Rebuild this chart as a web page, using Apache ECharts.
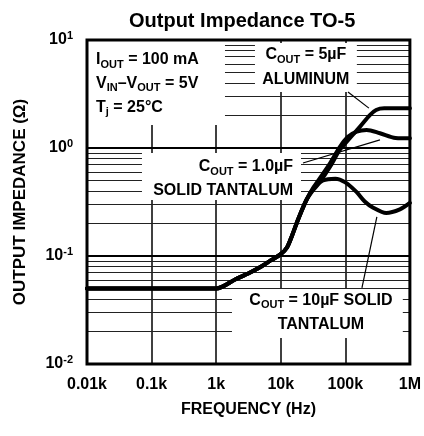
<!DOCTYPE html>
<html><head><meta charset="utf-8">
<script src="https://cdn.jsdelivr.net/npm/echarts@6/dist/echarts.min.js"></script>
<style>html,body{margin:0;padding:0;background:#fff}#c{width:424px;height:436px}</style>
</head><body><div id="c"></div>
<script>
// ---------------- DATA ----------------
const title = 'Output Impedance TO-5';
const xAxisName = 'FREQUENCY (Hz)';
const yAxisName = 'OUTPUT IMPEDANCE (\u03A9)';
const xTickLabels = ['0.01k', '0.1k', '1k', '10k', '100k', '1M'];
const yTickBase = '10';
const yTickExps = ['-2', '-1', '0', '1'];

// shared low-frequency part (Hz, ohm)
const freqTrunk = [10, 100, 1000, 2000, 3300, 5000, 7000, 10000, 12500, 15000, 18700, 25000];
const zTrunk    = [0.05, 0.05, 0.05, 0.061, 0.07, 0.08, 0.091, 0.104, 0.12, 0.155, 0.22, 0.33];
// C_OUT = 10uF solid tantalum
const freq10uF = [32000, 45000, 70000, 100000, 150000, 200000, 270000, 430000, 700000, 1000000];
const z10uF    = [0.42, 0.5, 0.52, 0.48, 0.39, 0.32, 0.28, 0.25, 0.27, 0.31];
// C_OUT = 1.0uF solid tantalum
const freq1uF = [32000, 40000, 58000, 82000, 110000, 150000, 214000, 344000, 600000, 1000000];
const z1uF    = [0.43, 0.52, 0.72, 1.02, 1.27, 1.42, 1.47, 1.37, 1.24, 1.23];
// C_OUT = 5uF aluminum
const freq5uF = [32000, 40000, 58000, 82000, 120000, 168000, 240000, 300000, 400000, 1000000];
const z5uF    = [0.41, 0.48, 0.67, 0.96, 1.25, 1.57, 2.02, 2.25, 2.33, 2.33];
// ---------------------------------------

const FONT = '"Liberation Sans", Arial, Helvetica, sans-serif';
function pairs(fx, zy) { return fx.map((f, i) => [f, zy[i]]); }
const trunk = pairs(freqTrunk, zTrunk);
function curve(fx, zy) { return trunk.concat(pairs(fx, zy)); }

// minor horizontal grid lines (2..9 within each decade)
const minorY = [];
[0.01, 0.1, 1].forEach(d => { for (let k = 2; k <= 9; k++) minorY.push(+(d * k).toPrecision(3)); });

const chart = echarts.init(document.getElementById('c'), null, { renderer: 'canvas' });

const curveStyle = { color: '#000', width: 4, cap: 'round', join: 'round' };
function lineSeries(name, data) {
  return { name, type: 'line', data, showSymbol: false, symbol: 'none', smooth: 0.3,
           lineStyle: curveStyle, z: 3, silent: true };
}

const option = {
  animation: false,
  backgroundColor: '#fff',
  title: { text: title, left: 124, top: 6,
           textStyle: { fontSize: 20, fontWeight: 'bold', fontFamily: FONT, color: '#000' } },
  grid: { left: 87, right: 14, top: 40, bottom: 72, show: false },
  xAxis: {
    type: 'log', logBase: 10, min: 10, max: 1000000,
    name: xAxisName, nameLocation: 'middle', nameGap: 38,
    nameTextStyle: { fontSize: 16, fontWeight: 'bold', fontFamily: FONT, color: '#000' },
    axisLine: { show: false }, axisTick: { show: false },
    axisLabel: { margin: 13, fontSize: 16, fontWeight: 'bold', fontFamily: FONT, color: '#000',
                 formatter: v => xTickLabels[Math.round(Math.log10(v)) - 1] },
    splitLine: { show: true, lineStyle: { color: '#000', width: 1.5 } }
  },
  yAxis: {
    type: 'log', logBase: 10, min: 0.01, max: 10,
    name: yAxisName, nameLocation: 'middle', nameGap: 58, nameRotate: 90,
    nameTextStyle: { fontSize: 17, fontWeight: 'bold', fontFamily: FONT, color: '#000' },
    axisLine: { show: false }, axisTick: { show: false },
    axisLabel: {
      margin: 14, color: '#000',
      formatter: v => '{b|' + yTickBase + '}{s|' + yTickExps[Math.round(Math.log10(v)) + 2] + '}',
      rich: {
        b: { fontSize: 16, fontWeight: 'bold', fontFamily: FONT, color: '#000', lineHeight: 20 },
        s: { fontSize: 11, fontWeight: 'bold', fontFamily: FONT, color: '#000', lineHeight: 12, verticalAlign: 'top' }
      }
    },
    splitLine: { show: true, lineStyle: { color: '#000', width: 2 } }
  },
  series: [
    { name: 'grid-minor', type: 'line', data: [], z: 1, silent: true,
      markLine: { z: 1, silent: true, symbol: 'none', animation: false, label: { show: false },
                  lineStyle: { color: '#222', width: 1.2, type: 'solid' },
                  data: minorY.map(v => ({ yAxis: v })) } },
    lineSeries('10uF solid tantalum', curve(freq10uF, z10uF)),
    lineSeries('1.0uF solid tantalum', curve(freq1uF, z1uF)),
    lineSeries('5uF aluminum', curve(freq5uF, z5uF)),
    { name: 'arrows', type: 'line', data: [], z: 6, silent: true,
      markLine: { z: 6, silent: true, animation: false, symbol: ['none', 'arrow'], symbolSize: [0, 9],
                  label: { show: false }, lineStyle: { color: '#000', width: 1.2, type: 'solid' },
                  data: [
                    [{ coord: [110000, 3.3] }, { coord: [232000, 2.34] }],
                    [{ coord: [22100, 0.726] }, { coord: [344000, 1.19] }],
                    [{ coord: [181000, 0.0506] }, { coord: [308000, 0.23] }]
                  ] } }
  ]
};
chart.setOption(option);

// ---- annotation boxes & texts (placed in data coordinates) ----
function P(f, v) { return chart.convertToPixel({ xAxisIndex: 0, yAxisIndex: 0 }, [f, v]); }
function box(f1, v1, f2, v2) {
  const a = P(f1, v1), b = P(f2, v2);
  return { type: 'rect', z: 2, silent: true,
           shape: { x: Math.min(a[0], b[0]), y: Math.min(a[1], b[1]),
                    width: Math.abs(b[0] - a[0]), height: Math.abs(b[1] - a[1]) },
           style: { fill: '#fff', stroke: null } };
}
const rich = {
  m: { fontSize: 16, fontWeight: 'bold', fontFamily: FONT, fill: '#000', lineHeight: 20 },
  s: { fontSize: 11, fontWeight: 'bold', fontFamily: FONT, fill: '#000', lineHeight: 12, verticalAlign: 'bottom' }
};
function txt(f, v, text, align) {
  const p = P(f, v);
  return { type: 'text', z: 5, silent: true, x: p[0], y: p[1],
           style: { text, rich, x: 0, y: 0, fill: '#000',
                    font: 'bold 16px ' + FONT,
                    align: align || 'left', verticalAlign: 'middle',
                    textAlign: align || 'left', textVerticalAlign: 'middle' } };
}
const tl = P(10, 10), br = P(1000000, 0.01);
const graphics = [
  box(10, 10, 1370, 1.63),
  box(3990, 9.4, 151000, 3.3),
  box(71, 0.9, 20600, 0.33),
  box(1757, 0.0494, 777000, 0.0174),
  txt(13.8, 6.53, '{m|I}{s|OUT}{m| = 100 mA}'),
  txt(13.8, 3.99, '{m|V}{s|IN}{m|\u2013V}{s|OUT}{m| = 5V}'),
  txt(13.8, 2.35, '{m|T}{s|j}{m| = 25\u00B0C}'),
  txt(24500, 7.26, '{m|C}{s|OUT}{m| = 5\u00B5F}', 'center'),
  txt(24500, 4.26, '{m|ALUMINUM}', 'center'),
  txt(15500, 0.667, '{m|C}{s|OUT}{m| = 1.0\u00B5F}', 'right'),
  txt(15500, 0.40, '{m|SOLID TANTALUM}', 'right'),
  txt(41900, 0.039, '{m|C}{s|OUT}{m| = 10\u00B5F SOLID}', 'center'),
  txt(41900, 0.023, '{m|TANTALUM}', 'center'),
  { type: 'rect', z: 8, silent: true,
    shape: { x: tl[0], y: tl[1], width: br[0] - tl[0], height: br[1] - tl[1] },
    style: { fill: null, stroke: '#000', lineWidth: 3 } }
];
chart.setOption({ graphic: graphics });
</script>
</body></html>
